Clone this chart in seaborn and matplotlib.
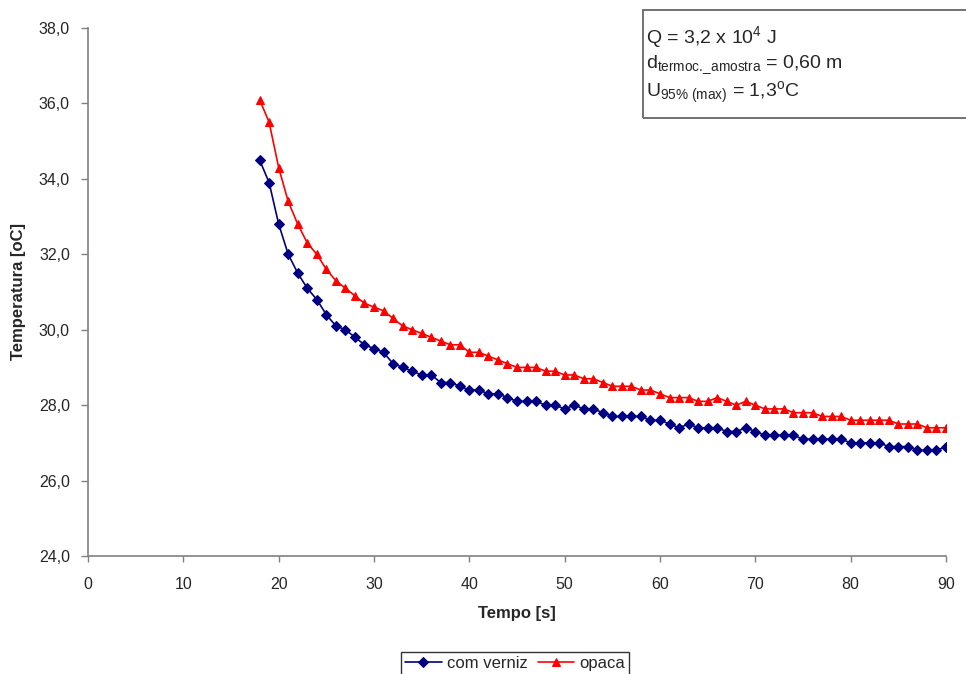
import pandas as pd
import seaborn as sns
import matplotlib.pyplot as plt
from matplotlib.patches import Rectangle
from matplotlib.ticker import FuncFormatter, MultipleLocator

# dados (t = 18..90 s)
tempo = list(range(18, 91))
com_verniz = [34.5, 33.9, 32.8, 32.0, 31.5, 31.1, 30.8, 30.4, 30.1, 30.0,
              29.8, 29.6, 29.5, 29.4, 29.1, 29.0, 28.9, 28.8, 28.8, 28.6,
              28.6, 28.5, 28.4, 28.4, 28.3, 28.3, 28.2, 28.1, 28.1, 28.1,
              28.0, 28.0, 27.9, 28.0, 27.9, 27.9, 27.8, 27.7, 27.7, 27.7,
              27.7, 27.6, 27.6, 27.5, 27.4, 27.5, 27.4, 27.4, 27.4, 27.3,
              27.3, 27.4, 27.3, 27.2, 27.2, 27.2, 27.2, 27.1, 27.1, 27.1,
              27.1, 27.1, 27.0, 27.0, 27.0, 27.0, 26.9, 26.9, 26.9, 26.8,
              26.8, 26.8, 26.9]
opaca = [36.1, 35.5, 34.3, 33.4, 32.8, 32.3, 32.0, 31.6, 31.3, 31.1,
         30.9, 30.7, 30.6, 30.5, 30.3, 30.1, 30.0, 29.9, 29.8, 29.7,
         29.6, 29.6, 29.4, 29.4, 29.3, 29.2, 29.1, 29.0, 29.0, 29.0,
         28.9, 28.9, 28.8, 28.8, 28.7, 28.7, 28.6, 28.5, 28.5, 28.5,
         28.4, 28.4, 28.3, 28.2, 28.2, 28.2, 28.1, 28.1, 28.2, 28.1,
         28.0, 28.1, 28.0, 27.9, 27.9, 27.9, 27.8, 27.8, 27.8, 27.7,
         27.7, 27.7, 27.6, 27.6, 27.6, 27.6, 27.6, 27.5, 27.5, 27.5,
         27.4, 27.4, 27.4]
series = ['com verniz', 'opaca']
cores = {'com verniz': '#000080', 'opaca': '#FF0000'}
marcadores = {'com verniz': 'D', 'opaca': '^'}
tam_marcador = {'D': 4.8, '^': 6}

sns.set_style('ticks')
plt.rcParams['font.family'] = ['Liberation Sans', 'DejaVu Sans']
plt.rcParams['mathtext.fontset'] = 'custom'
plt.rcParams['mathtext.rm'] = 'Liberation Sans'
plt.rcParams['mathtext.it'] = 'Liberation Sans'

df = pd.DataFrame({
    'Tempo': tempo * 2,
    'Temperatura': com_verniz + opaca,
    'serie': [series[0]] * len(tempo) + [series[1]] * len(tempo),
})

fig = plt.figure(figsize=(9.66, 6.74), dpi=100)
ax = fig.add_axes([88 / 966, 1 - 556 / 674, 858 / 966, 528 / 674])

sns.lineplot(data=df, x='Tempo', y='Temperatura', hue='serie', style='serie',
             markers=marcadores, dashes=False, palette=cores,
             markersize=6, linewidth=1.2, ax=ax)

handles, labels = ax.get_legend_handles_labels()
ax.get_legend().remove()

# marcadores com contorno da mesma cor e tamanho por tipo
for ln in list(ax.lines) + list(handles):
    ln.set_markeredgecolor(ln.get_color())
    m = ln.get_marker()
    if m in tam_marcador:
        ln.set_markersize(tam_marcador[m])

ax.set_xlim(0, 90)
ax.set_ylim(24, 38)
ax.xaxis.set_major_locator(MultipleLocator(10))
ax.yaxis.set_major_locator(MultipleLocator(2))
ax.yaxis.set_major_formatter(FuncFormatter(lambda v, p: f'{v:.1f}'.replace('.', ',')))

for s in ['top', 'right']:
    ax.spines[s].set_visible(False)
for s in ['left', 'bottom']:
    ax.spines[s].set_color('#808080')
    ax.spines[s].set_linewidth(1.2)

ax.tick_params(axis='x', direction='out', length=4, width=1, color='#808080', pad=11, labelsize=11.5)
ax.tick_params(axis='y', direction='out', length=5, width=1, color='#808080', pad=8, labelsize=11.5)

ax.set_xlabel('Tempo [s]', fontweight='bold', fontsize=12, labelpad=10)
ax.set_ylabel('Temperatura [oC]', fontweight='bold', fontsize=12, labelpad=9)

# legenda em baixo
leg = fig.legend(handles, labels, loc='upper center', bbox_to_anchor=(515 / 966, 1 - 652 / 674),
                 ncol=2, frameon=True, fancybox=False, edgecolor='black', fontsize=12,
                 handlelength=2.2, columnspacing=0.6, handletextpad=0.3, borderpad=0.25,
                 borderaxespad=0)
leg.get_frame().set_linewidth(1.0)

# caixa de texto
fig.add_artist(Rectangle((643 / 966, 1 - 118 / 674), 0.4, 108 / 674, transform=fig.transFigure,
                         fill=False, edgecolor='#666666', linewidth=1.3, clip_on=False))
fig.text(646 / 966, 1 - 43 / 674, r'Q = 3,2 x 10$^{\mathrm{4}}$ J', fontsize=14, va='baseline')
fig.text(646 / 966, 1 - 68 / 674, r'd$_{\mathrm{termoc.\!\_amostra}}$ = 0,60 m', fontsize=14, va='baseline')
fig.text(646 / 966, 1 - 97 / 674, r'U$_{\mathrm{95\%\ (max)}}$ = 1,3$^{\mathrm{o}}$C', fontsize=14, va='baseline')

fig.savefig('out.png', dpi=100)
